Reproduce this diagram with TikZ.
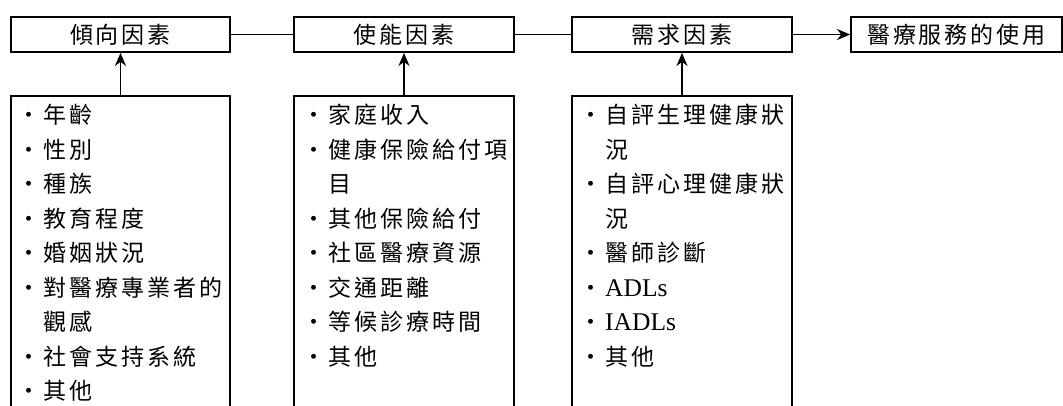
\documentclass[tikz,border=0pt]{standalone}
\usepackage{fontspec}
\setmainfont{Liberation Serif}
\newfontfamily\cjk[LetterSpace=13]{Noto Sans CJK TC}
\usetikzlibrary{arrows.meta}
\newcommand\cjksize{\cjk\fontsize{23}{23}\selectfont}
\newcommand\lat{\rmfamily\fontsize{25.5}{25.5}\selectfont}
\newcommand\bul{\llap{\makebox[20pt][c]{·}\hspace{4pt}}}
\tikzset{
 topbox/.style={draw, line width=1.8pt, minimum height=35pt, inner sep=0pt, font=\cjksize},
 listbox/.style={draw, line width=1.8pt, minimum height=340pt, inner sep=0pt, anchor=north},
 conn/.style={line width=1.6pt},
 arr/.style={line width=1.6pt, -{Stealth[length=13pt,width=11pt,inset=4pt]}},
 item/.style={anchor=base west, inner sep=0pt, font=\cjksize},
}
\begin{document}
\begin{tikzpicture}[x=1pt,y=-1pt]
\clip (0,0) rectangle (1063,405);
\node[topbox, minimum width=219pt] (t1) at (120.5,34.5) {傾向因素};
\node[topbox, minimum width=220pt] (t2) at (404,34.5) {使能因素};
\node[topbox, minimum width=220pt] (t3) at (682,34.5) {需求因素};
\node[topbox, minimum width=211pt] (t4) at (956.5,34.5) {醫療服務的使用};
\node[listbox, minimum width=219pt] (b1) at (120.5,95) {};
\node[listbox, minimum width=220pt] (b2) at (404,95) {};
\node[listbox, minimum width=220pt] (b3) at (682,95) {};
\draw[conn] (t1.east) -- (t2.west);
\draw[conn] (t2.east) -- (t3.west);
\draw[arr] (t3.east) -- (t4.west);
\draw[arr] (b1.north) -- (t1.south);
\draw[arr] (b2.north) -- (t2.south);
\draw[arr] (b3.north) -- (t3.south);
\foreach \txt [count=\i from 0] in {{\bul 年齡},{\bul 性別},{\bul 種族},{\bul 教育程度},{\bul 婚姻狀況},{\bul 對醫療專業者的},{觀感},{\bul 社會支持系統},{\bul 其他}}
  \node[item] (pa\i) at (43,115+34.5*\i+8.7) {\txt};
\foreach \txt [count=\i from 0] in {{\bul 家庭收入},{\bul 健康保險給付項},{目},{\bul 其他保險給付},{\bul 社區醫療資源},{\bul 交通距離},{\bul 等候診療時間},{\bul 其他}}
  \node[item] (pb\i) at (328,115+34.5*\i+8.7) {\txt};
\foreach \txt [count=\i from 0] in {{\bul 自評生理健康狀},{況},{\bul 自評心理健康狀},{況},{\bul 醫師診斷},{\bul\lat ADLs},{\bul\lat IADLs},{\bul 其他}}
  \node[item] (pc\i) at (605,115+34.5*\i+8.7) {\txt};
\end{tikzpicture}
\end{document}
